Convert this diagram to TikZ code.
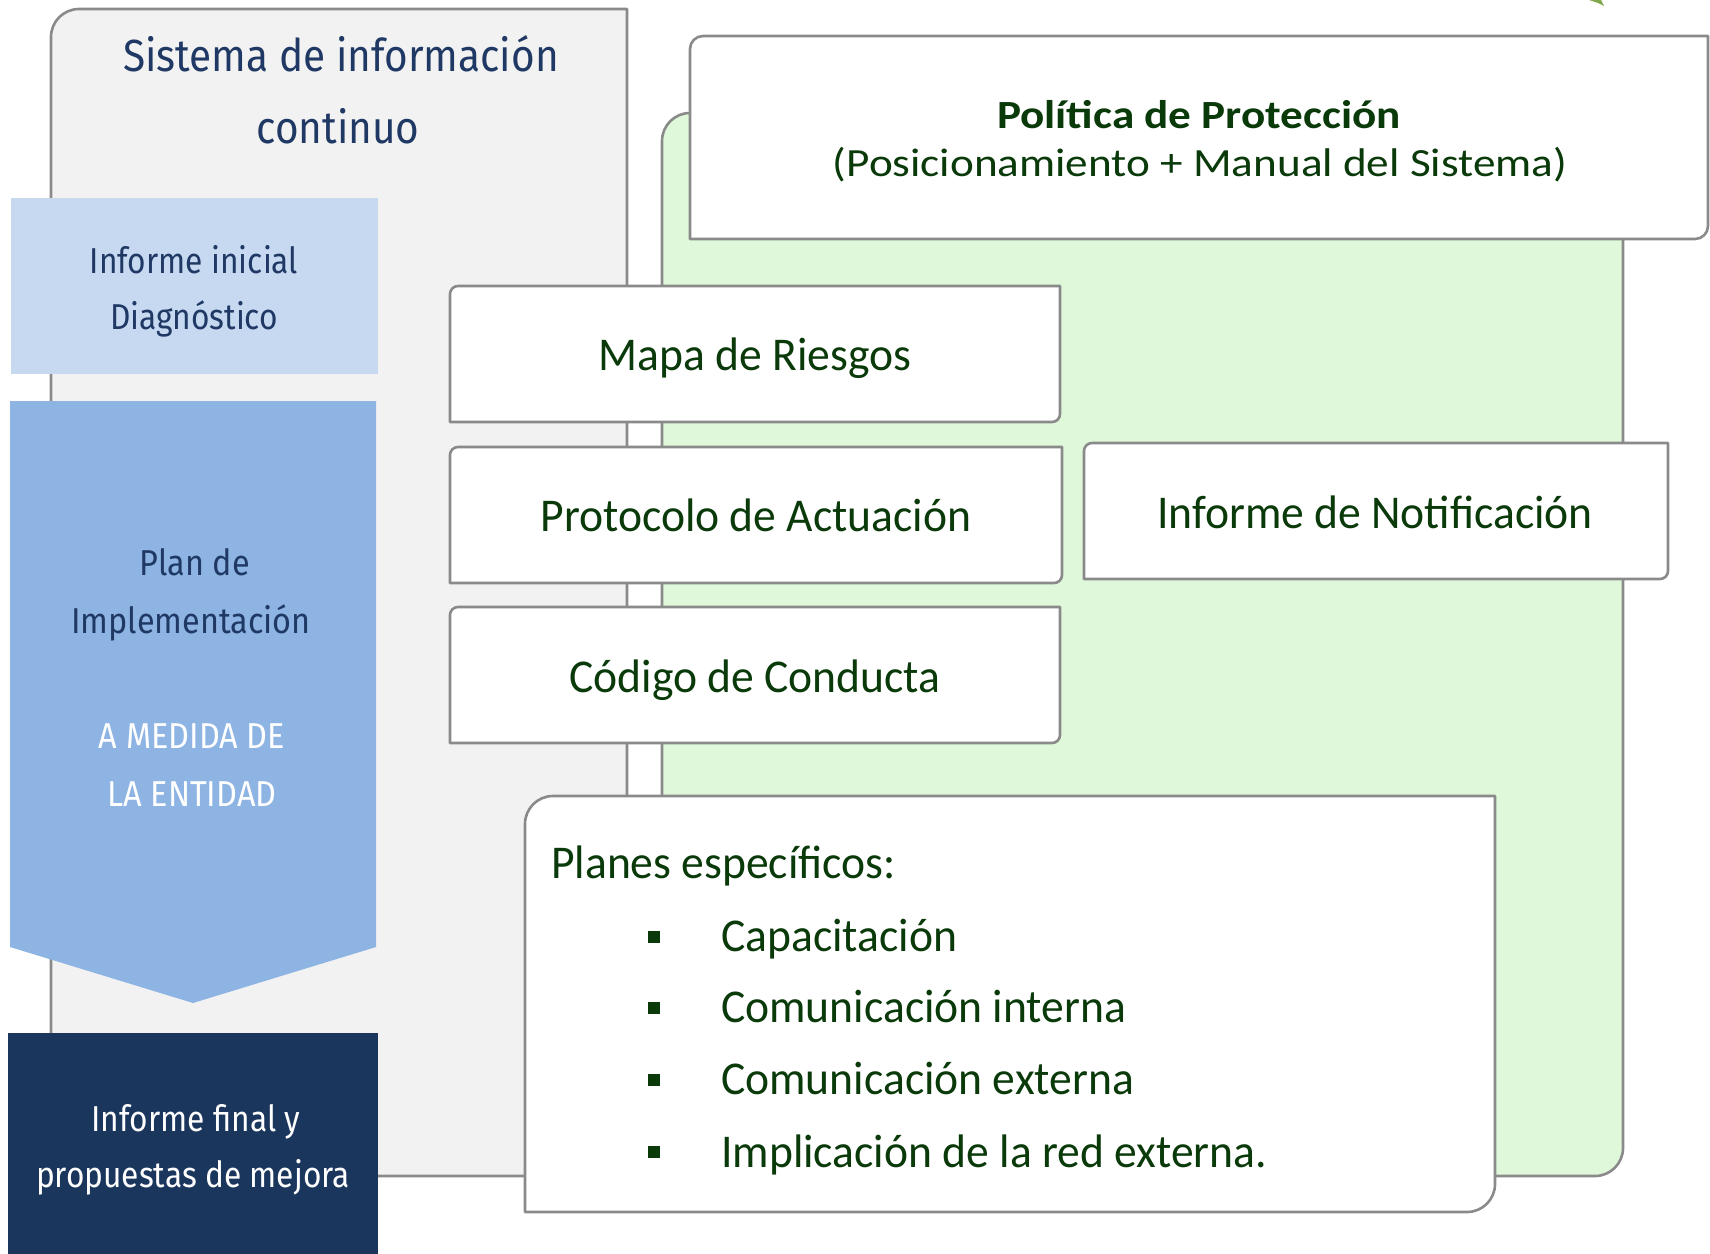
\documentclass[tikz,border=0pt]{standalone}
\usepackage{fontspec}
\setmainfont{Carlito}
\newfontfamily\navyA[FakeStretch=0.90]{Fira Sans}
\newfontfamily\navyB[FakeStretch=0.88]{Fira Sans}
\newfontfamily\navyC[FakeStretch=0.90]{Fira Sans}
\newfontfamily\greenA[FakeStretch=0.97]{Carlito}
\newfontfamily\greenP[FakeStretch=1.13]{Carlito}
\definecolor{navytxt}{HTML}{1F3864}
\definecolor{navybox}{HTML}{1B365D}
\definecolor{lightblue}{HTML}{C6D9F1}
\definecolor{midblue}{HTML}{8EB4E3}
\definecolor{grayfill}{HTML}{F2F2F2}
\definecolor{edgegray}{HTML}{8A8A8A}
\definecolor{greenfill}{HTML}{DEF8D9}
\definecolor{greentxt}{HTML}{0A3A0A}
\definecolor{leaf}{HTML}{7FA84A}
\tikzset{
  panel/.style={draw=edgegray, line width=2.6pt, line join=round},
  navylbl/.style={anchor=base, inner sep=0pt, text=navytxt, font=\navyB\fontsize{36}{36}\selectfont},
  whitelbl/.style={navylbl, text=white},
  arrowlbl/.style={anchor=base, inner sep=0pt, font=\navyC\fontsize{36}{36}\selectfont},
  titlelbl/.style={anchor=base, inner sep=0pt, text=navytxt, font=\navyA\fontsize{45}{45}\selectfont},
  greenlbl/.style={anchor=base, inner sep=0pt, text=greentxt, font=\greenA\fontsize{47}{47}\selectfont},
  polilbl/.style={anchor=base, inner sep=0pt, text=greentxt, font=\greenP\fontsize{40}{40}\selectfont},
  itemlbl/.style={greenlbl, anchor=base west},
  bulletsq/.style={fill=greentxt, draw=none, minimum width=12pt, minimum height=12pt, inner sep=0pt}
}
% diagonal-rounded box: L T R B r
\newcommand{\diagbox}[6][]{%
  \draw[panel,fill=white,#1] (#2,#5) -- (#2,#3+#6) arc[start angle=180,end angle=270,radius=#6]
    -- (#4,#3) -- (#4,#5-#6) arc[start angle=0,end angle=90,radius=#6] -- cycle;}
\begin{document}
\begin{tikzpicture}[x=1pt,y=-1pt]
\useasboundingbox (0,0) rectangle (1710,1253);
% leaf fragment at top right
\fill[leaf] (1589,0) -- (1601,0) -- (1604,6) -- (1598,3) -- cycle;
% gray panel
\draw[panel, fill=grayfill] (51,1176) -- (51,37) arc[start angle=180,end angle=270,radius=28]
   -- (627,9) -- (627,1176) -- cycle;
% green panel
\draw[panel, fill=greenfill] (662,1176) -- (662,141) arc[start angle=180,end angle=270,radius=28]
   -- (1623,113) -- (1623,1148) arc[start angle=0,end angle=90,radius=28] -- cycle;
% Politica box
\diagbox{690}{36}{1708}{239}{13}
% left column
\fill[lightblue] (11,198) rectangle (378,374);
\fill[midblue] (10,401) -- (376,401) -- (376,947) -- (193,1003) -- (10,947) -- cycle;
\fill[navybox] (8,1033) rectangle (378,1260);
% white boxes
\diagbox{450}{286}{1060}{422}{8}
\diagbox{450}{447}{1062}{583}{8}
\diagbox{450}{607}{1060}{743}{8}
\diagbox{1084}{443}{1668}{579}{8}
\diagbox{525}{796}{1495}{1212}{28}
% texts
\node[titlelbl] (sis1) at (341,71) {Sistema de información};
\node[titlelbl] (sis2) at (338,143) {continuo};
\node[navylbl] (ini1) at (194,273) {Informe inicial};
\node[navylbl] (ini2) at (194,329) {Diagnóstico};
\node[arrowlbl, text=navytxt] (plan1) at (195,575) {Plan de};
\node[arrowlbl, text=navytxt] (plan2) at (191,633) {Implementación};
\node[arrowlbl, text=white] (med1) at (192,748) {A MEDIDA DE};
\node[arrowlbl, text=white] (med2) at (192,806) {LA ENTIDAD};
\node[whitelbl] (fin1) at (196,1131) {Informe final y};
\node[whitelbl] (fin2) at (193,1187) {propuestas de mejora};
\node[polilbl, font=\greenP\bfseries\fontsize{40}{40}\selectfont] (pol1) at (1199,128) {Política de Protección};
\node[polilbl] (pol2) at (1200,176) {(Posicionamiento + Manual del Sistema)};
\node[greenlbl] (mapa) at (755,370) {Mapa de Riesgos};
\node[greenlbl] (prot) at (756,531) {Protocolo de Actuación};
\node[greenlbl] (cod) at (755,692) {Código de Conducta};
\node[greenlbl] (notif) at (1375,528) {Informe de Notificación};
\node[itemlbl] (planes) at (551,878) {Planes específicos:};
\node[bulletsq] (b1) at (654,937) {};
\node[bulletsq] (b2) at (654,1008) {};
\node[bulletsq] (b3) at (654,1080) {};
\node[bulletsq] (b4) at (654,1152) {};
\node[itemlbl] (i1) at (721,951) {Capacitación};
\node[itemlbl] (i2) at (721,1022) {Comunicación interna};
\node[itemlbl] (i3) at (721,1094) {Comunicación externa};
\node[itemlbl] (i4) at (721,1167) {Implicación de la red externa.};
\end{tikzpicture}
\end{document}
